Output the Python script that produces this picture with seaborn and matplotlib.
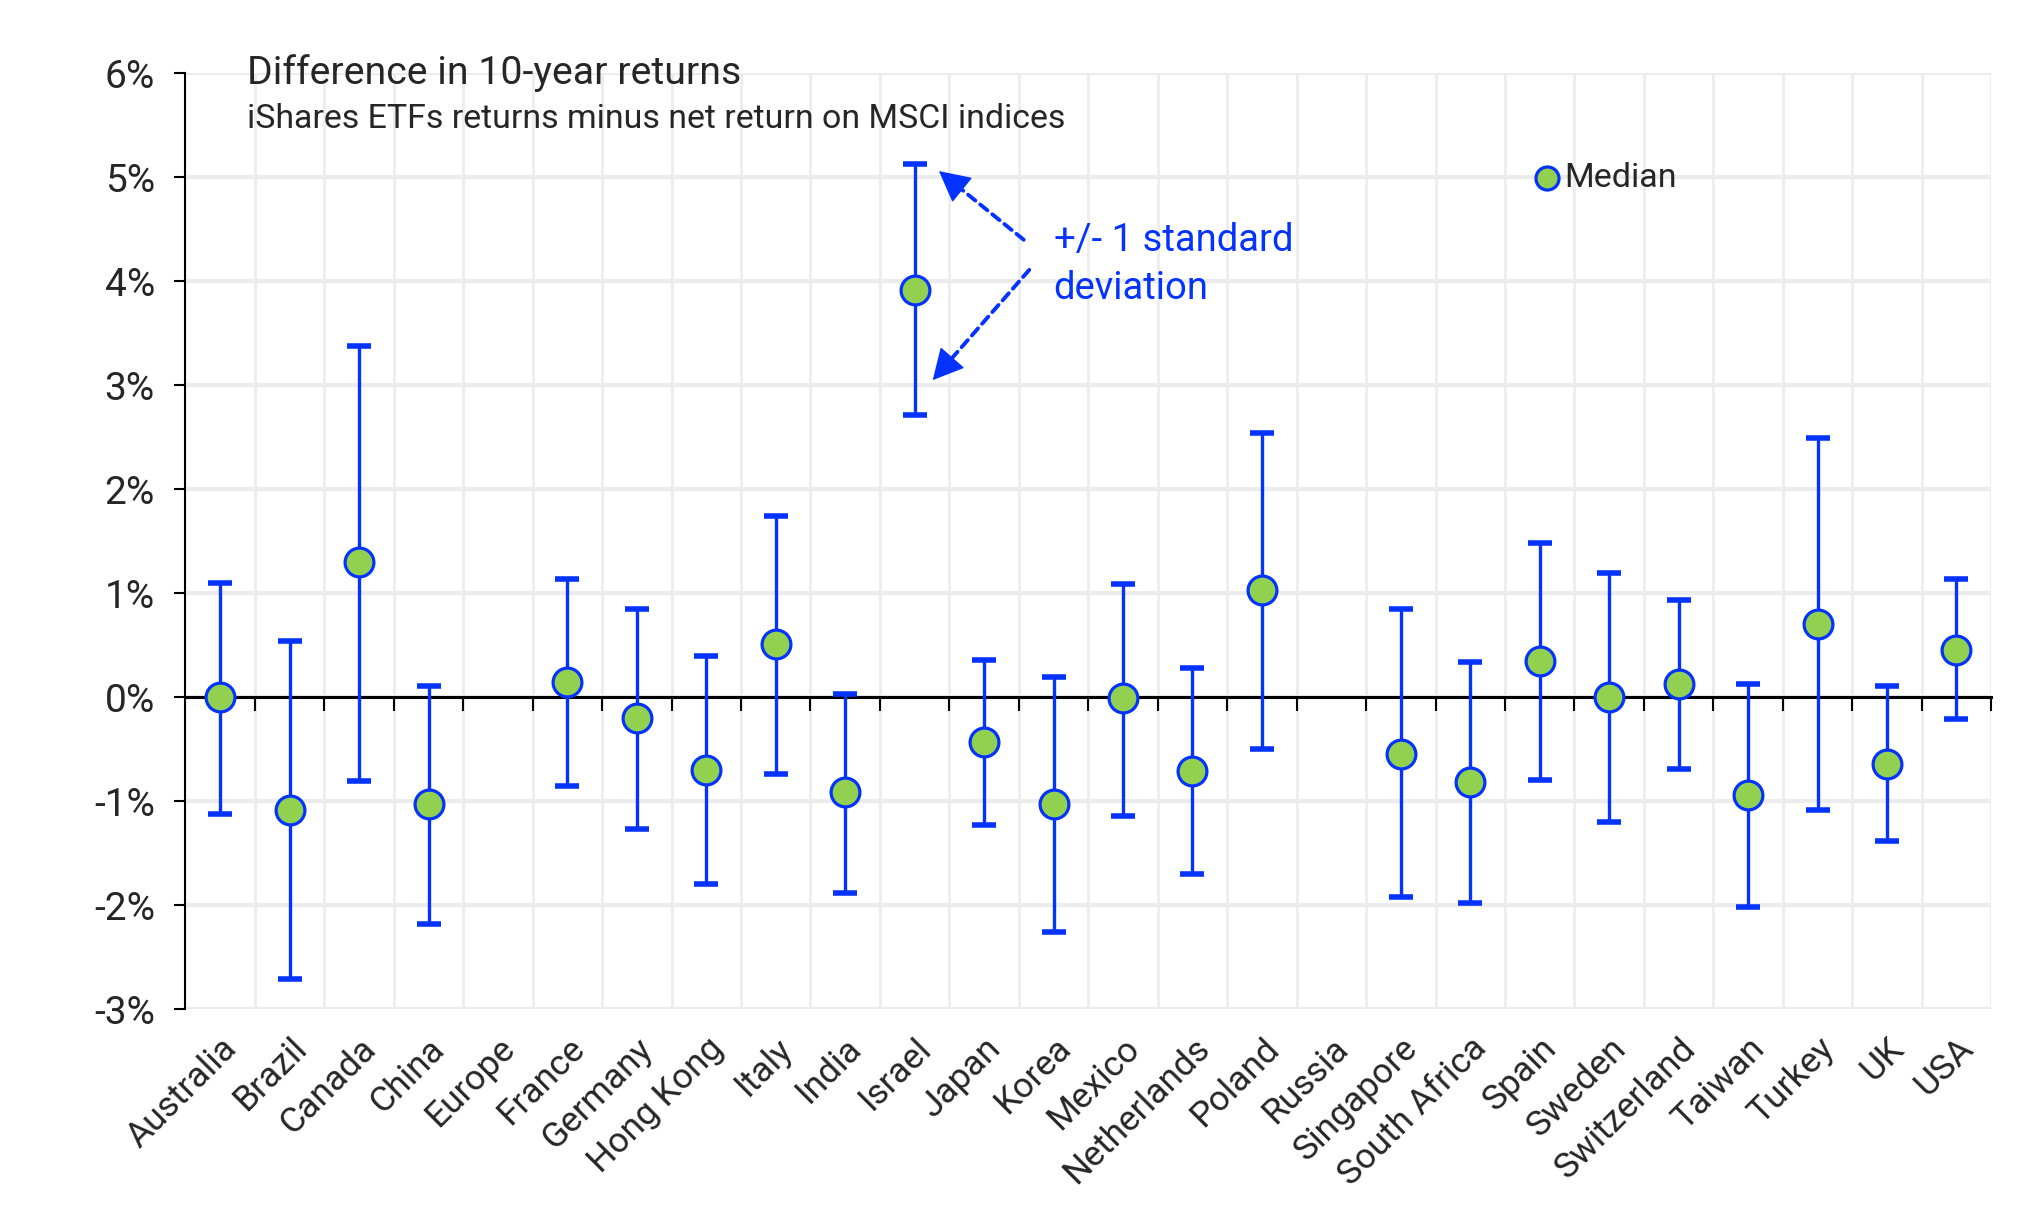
import numpy as np
import pandas as pd
import matplotlib
matplotlib.use('Agg')
import matplotlib.pyplot as plt
import seaborn as sns

# data (in %)
countries = ['Australia', 'Brazil', 'Canada', 'China', 'Europe', 'France', 'Germany',
             'Hong Kong', 'Italy', 'India', 'Israel', 'Japan', 'Korea', 'Mexico',
             'Netherlands', 'Poland', 'Russia', 'Singapore', 'South Africa', 'Spain',
             'Sweden', 'Switzerland', 'Taiwan', 'Turkey', 'UK', 'USA']
median = [0.00, -1.08, 1.30, -1.03, np.nan, 0.15, -0.20, -0.70, 0.51, -0.91, 3.92, -0.43,
          -1.03, -0.01, -0.71, 1.03, np.nan, -0.54, -0.81, 0.35, 0.00, 0.13, -0.94, 0.71,
          -0.64, 0.46]
upper = [1.10, 0.54, 3.38, 0.11, np.nan, 1.14, 0.85, 0.40, 1.74, 0.03, 5.13, 0.36,
         0.20, 1.09, 0.28, 2.54, np.nan, 0.85, 0.34, 1.48, 1.20, 0.94, 0.13, 2.49,
         0.11, 1.14]
lower = [-1.12, -2.71, -0.80, -2.18, np.nan, -0.85, -1.27, -1.79, -0.74, -1.88, 2.71, -1.23,
         -2.26, -1.14, -1.70, -0.50, np.nan, -1.92, -1.98, -0.79, -1.20, -0.69, -2.02, -1.08,
         -1.38, -0.21]

y_ticks = [-3, -2, -1, 0, 1, 2, 3, 4, 5, 6]

# annotation placement (data coords)
note_xy = (12.0, 4.16)
arrow_up = ((11.57, 4.40), (10.35, 5.06))
arrow_down = ((11.65, 4.11), (10.26, 3.05))

BLUE = '#0433ff'
GREEN = '#92d050'

df = pd.DataFrame({'country': countries, 'median': median, 'upper': upper, 'lower': lower})
df['pos'] = np.arange(len(df))
ok = df.dropna()

sns.set_style('white')
plt.rcParams['font.family'] = ['Roboto', 'DejaVu Sans']

fig, ax = plt.subplots(figsize=(20.38, 12.22), dpi=100)
fig.subplots_adjust(left=0.091, right=0.977, top=0.940, bottom=0.174)

ax.errorbar(ok['pos'], ok['median'],
            yerr=[ok['median'] - ok['lower'], ok['upper'] - ok['median']],
            fmt='none', ecolor=BLUE, elinewidth=2.4, capsize=8.3, capthick=4,
            zorder=3)
sns.scatterplot(data=ok, x='pos', y='median', s=430, color=GREEN, edgecolor=BLUE,
                linewidth=2.3, zorder=4, label='Median', ax=ax)

n = len(countries)
bounds = np.arange(0.5, n, 1.0)
ax.set_xlim(-0.5, n - 0.5)
ax.set_ylim(-3, 6)
ax.set_xticks(df['pos'])
ax.set_xticklabels(countries, rotation=45, ha='right', rotation_mode='anchor', fontsize=25.5)
ax.set_xticks(bounds, minor=True)
ax.tick_params(axis='x', which='both', length=0, pad=16)
ax.set_yticks(y_ticks)
ax.set_yticklabels([f'{t}%' for t in y_ticks], fontsize=28)
ax.tick_params(axis='y', length=8, width=1.5, color='black', pad=14, left=True)
ax.set_xlabel('')
ax.set_ylabel('')

ax.grid(which='minor', axis='x', color='#ededed', linewidth=2)
ax.grid(which='major', axis='y', color='#ececec', linewidth=3)
ax.grid(which='major', axis='x', visible=False)
ax.set_axisbelow(True)

for s in ['top', 'right', 'bottom']:
    ax.spines[s].set_visible(False)
ax.spines['left'].set_color('black')
ax.spines['left'].set_linewidth(1.5)

# zero line with boundary ticks
zero_frac = (0 - y_ticks[0]) / (y_ticks[-1] - y_ticks[0])
sec = ax.secondary_xaxis(zero_frac)
sec.set_alignment('bottom')
sec.set_zorder(2.5)
sec.set_xticks(bounds)
sec.set_xticklabels([''] * len(bounds))
sec.tick_params(bottom=True, top=False, direction='out', length=10, width=1.5,
                color='black')
sec.spines['bottom'].set_linewidth(2.2)
sec.spines['bottom'].set_color('black')

# titles
ax.text(0.034, 1.0, 'Difference in 10-year returns', transform=ax.transAxes,
        va='center', ha='left', fontsize=28.3)
ax.text(0.034, 0.951, 'iShares ETFs returns minus net return on MSCI indices',
        transform=ax.transAxes, va='center', ha='left', fontsize=24.4)

# std dev note: dashed shaft + solid head
ax.text(note_xy[0], note_xy[1], '+/- 1 standard\ndeviation', color=BLUE, fontsize=27.5,
        va='center', ha='left', linespacing=1.38)
for start, end in [arrow_up, arrow_down]:
    ax.annotate('', xy=end, xytext=start,
                arrowprops=dict(arrowstyle='-', color=BLUE, lw=2.8,
                                linestyle=(0, (2.4, 1.6)), shrinkA=0, shrinkB=12))
    near = (end[0] + 0.1 * (start[0] - end[0]), end[1] + 0.1 * (start[1] - end[1]))
    ax.annotate('', xy=end, xytext=near,
                arrowprops=dict(arrowstyle='-|>,head_length=1.0,head_width=0.52',
                                color=BLUE, lw=1, mutation_scale=20,
                                shrinkA=0, shrinkB=0))

ax.legend(loc='center left', bbox_to_anchor=(0.739, 0.888), frameon=False,
          handletextpad=0.1, markerscale=0.8, fontsize=24.5, handlelength=0.8,
          borderaxespad=0)

fig.savefig('out.png', dpi=100)
